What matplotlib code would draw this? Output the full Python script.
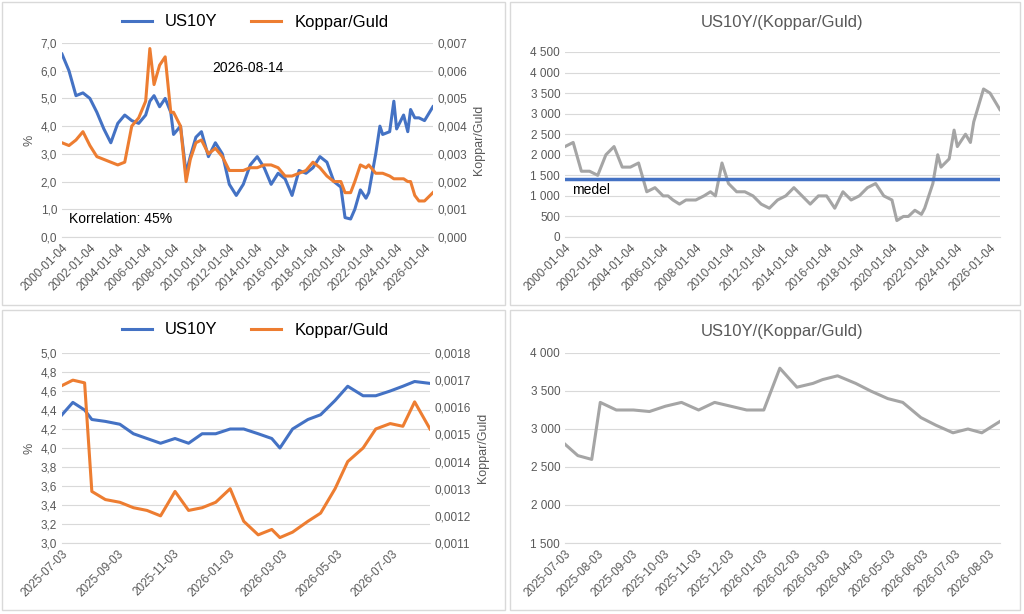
import matplotlib
matplotlib.use("Agg")
import matplotlib.pyplot as plt
import matplotlib.dates as mdates
from matplotlib.ticker import FuncFormatter
import numpy as np
import pandas as pd

plt.rcParams['font.family'] = ['Calibri', 'Liberation Sans', 'DejaVu Sans']
BLUE, ORANGE, GRAY = '#4472C4', '#ED7D31', '#A5A5A5'

# long history, half-yearly readings (year fraction)
long_t = [2000.0, 2000.5, 2001.0, 2001.5, 2002.0, 2002.5, 2003.0, 2003.5, 2004.0, 2004.5,
          2005.0, 2005.5, 2006.0, 2006.3, 2006.6, 2007.0, 2007.4, 2007.8, 2008.0, 2008.5,
          2008.9, 2009.2, 2009.6, 2010.0, 2010.5, 2011.0, 2011.5, 2012.0, 2012.5, 2013.0,
          2013.5, 2014.0, 2014.5, 2015.0, 2015.5, 2016.0, 2016.5, 2017.0, 2017.5, 2018.0,
          2018.5, 2019.0, 2019.5, 2020.0, 2020.3, 2020.7, 2021.0, 2021.4, 2021.8, 2022.0,
          2022.5, 2022.8, 2023.0, 2023.5, 2023.8, 2024.0, 2024.5, 2024.8, 2025.0, 2025.3,
          2025.6, 2026.0, 2026.6]
us10y_long = [6.6, 6.0, 5.1, 5.2, 5.0, 4.5, 3.9, 3.4, 4.1, 4.4,
              4.2, 4.1, 4.4, 4.9, 5.1, 4.7, 5.0, 4.5, 3.7, 4.0,
              2.3, 2.9, 3.6, 3.8, 2.9, 3.4, 3.0, 1.9, 1.5, 1.9,
              2.6, 2.9, 2.5, 1.9, 2.3, 2.1, 1.5, 2.4, 2.3, 2.5,
              2.9, 2.7, 2.0, 1.8, 0.7, 0.65, 1.0, 1.7, 1.4, 1.6,
              3.0, 4.0, 3.7, 3.8, 4.9, 3.9, 4.4, 3.8, 4.6, 4.3,
              4.3, 4.2, 4.7]
kg_long = [0.0034, 0.0033, 0.0035, 0.0038, 0.0033, 0.0029, 0.0028, 0.0027, 0.0026, 0.0027,
           0.0040, 0.0043, 0.0049, 0.0068, 0.0055, 0.0062, 0.0065, 0.0045, 0.0045, 0.0040,
           0.0020, 0.0028, 0.0034, 0.0035, 0.0030, 0.0032, 0.0029, 0.0024, 0.0024, 0.0024,
           0.0025, 0.0025, 0.0026, 0.0026, 0.0025, 0.0022, 0.0022, 0.0023, 0.0024, 0.0027,
           0.0025, 0.0022, 0.0020, 0.0020, 0.0016, 0.0016, 0.0020, 0.0026, 0.0025, 0.0026,
           0.0023, 0.0023, 0.0023, 0.0022, 0.0021, 0.0021, 0.0021, 0.0020, 0.0020, 0.0015,
           0.0013, 0.0013, 0.0016]
ratio_long = [2200, 2300, 1600, 1600, 1500, 2000, 2200, 1700, 1700, 1800,
              1100, 1200, 1000, 1000, 900, 800, 900, 900, 900, 1000,
              1100, 1000, 1800, 1300, 1100, 1100, 1000, 800, 700, 900,
              1000, 1200, 1000, 800, 1000, 1000, 700, 1100, 900, 1000,
              1200, 1300, 1000, 900, 400, 500, 500, 650, 550, 700,
              1300, 2000, 1700, 1900, 2600, 2200, 2500, 2300, 2800, 3200,
              3600, 3500, 3100]
medel = 1400

# last year, readings
short_d = ['2025-07-03', '2025-07-15', '2025-07-28', '2025-08-05', '2025-08-20', '2025-09-05',
           '2025-09-20', '2025-10-05', '2025-10-20', '2025-11-05', '2025-11-20', '2025-12-05',
           '2025-12-20', '2026-01-05', '2026-01-20', '2026-02-05', '2026-02-20', '2026-03-01',
           '2026-03-15', '2026-04-01', '2026-04-15', '2026-05-01', '2026-05-15', '2026-06-01',
           '2026-06-15', '2026-07-01', '2026-07-15', '2026-07-28', '2026-08-14']
us10y_short = [4.35, 4.48, 4.40, 4.30, 4.28, 4.25, 4.15, 4.10, 4.05, 4.10, 4.05, 4.15,
               4.15, 4.20, 4.20, 4.15, 4.10, 4.00, 4.20, 4.30, 4.35, 4.50, 4.65, 4.55,
               4.55, 4.60, 4.65, 4.70, 4.68]
kg_short = [0.00168, 0.00170, 0.00169, 0.00129, 0.00126, 0.00125, 0.00123, 0.00122, 0.00120,
            0.00129, 0.00122, 0.00123, 0.00125, 0.00130, 0.00118, 0.00113, 0.00115, 0.00112,
            0.00114, 0.00118, 0.00121, 0.00130, 0.00140, 0.00145, 0.00152, 0.00154, 0.00153,
            0.00162, 0.00152]
ratio_short = [2800, 2650, 2600, 3350, 3250, 3250, 3230, 3300, 3350, 3250, 3350, 3300,
               3250, 3250, 3800, 3550, 3600, 3650, 3700, 3600, 3500, 3400, 3350, 3150,
               3050, 2950, 3000, 2950, 3100]
monthly_ticks = ['2025-07-03', '2025-08-03', '2025-09-03', '2025-10-03', '2025-11-03',
                 '2025-12-03', '2026-01-03', '2026-02-03', '2026-03-03', '2026-04-03',
                 '2026-05-03', '2026-06-03', '2026-07-03', '2026-08-03']


def yfrac_to_date(t):
    y = int(t)
    return pd.Timestamp(year=y, month=1, day=4) + pd.Timedelta(days=(t - y) * 365.25)


long_dates = [yfrac_to_date(t) for t in long_t]
short_dates = pd.to_datetime(short_d)
long_ticks = pd.to_datetime([f'{y}-01-04' for y in range(2000, 2027, 2)])

comma = lambda d: FuncFormatter(lambda v, p: f'{v:.{d}f}'.replace('.', ','))
space = FuncFormatter(lambda v, p: f'{v:,.0f}'.replace(',', ' '))

fig = plt.figure(figsize=(10.24, 6.14), dpi=100)
W, H = 1024, 614
for (x0, y0, x1, y1) in [(2, 2, 505, 305), (510, 2, 1020, 305), (2, 310, 505, 610), (510, 310, 1020, 610)]:
    fig.patches.append(plt.Rectangle((x0 / W, 1 - y1 / H), (x1 - x0) / W, (y1 - y0) / H,
                                     transform=fig.transFigure, fill=False, ec='#D9D9D9', lw=1))


def ax_at(l, t, r, b):
    return fig.add_axes([l / W, 1 - b / H, (r - l) / W, (b - t) / H])


def style(ax):
    for s in ax.spines.values():
        s.set_visible(False)
    ax.spines['bottom'].set_visible(True)
    ax.spines['bottom'].set_color('#D9D9D9')
    ax.grid(axis='y', color='#D9D9D9', lw=0.8)
    ax.set_axisbelow(True)
    ax.tick_params(length=0, labelsize=8.5, colors='#595959')
    for lab in ax.get_xticklabels():
        lab.set_rotation(45)
        lab.set_ha('right')
        lab.set_rotation_mode('anchor')


# top left
ax1 = ax_at(62, 43, 433, 237)
ax1.plot(long_dates, us10y_long, color=BLUE, lw=2.2, label='US10Y')
ax1.set_ylim(0, 7)
ax1.set_yticks(np.arange(0, 7.01, 1))
ax1.yaxis.set_major_formatter(comma(1))
ax1.set_ylabel('%', color='#595959', fontsize=9)
ax1b = ax1.twinx()
ax1b.plot(long_dates, kg_long, color=ORANGE, lw=2.2, label='Koppar/Guld')
ax1b.set_ylim(0, 0.007)
ax1b.set_yticks(np.arange(0, 0.00701, 0.001))
ax1b.yaxis.set_major_formatter(comma(3))
ax1b.set_ylabel('Koppar/Guld', color='#595959', fontsize=9)
ax1b.tick_params(length=0, labelsize=8.5, colors='#595959')
for s in ax1b.spines.values():
    s.set_visible(False)
ax1.set_xticks(long_ticks)
ax1.xaxis.set_major_formatter(mdates.DateFormatter('%Y-%m-%d'))
ax1.set_xlim(pd.Timestamp('2000-01-04'), pd.Timestamp('2026-08-14'))
style(ax1)
ax1.text(0.5, 0.85, '2026-08-14', transform=ax1.transAxes, ha='center', fontsize=10)
ax1.text(0.02, 0.07, 'Korrelation: 45%', transform=ax1.transAxes, fontsize=10)
h = ax1.get_lines() + ax1b.get_lines()
fig.legend(h, [l.get_label() for l in h], loc='center', bbox_to_anchor=(255 / W, 1 - 22 / H),
           ncol=2, frameon=False, fontsize=12, handlelength=1.8)

# top right
ax2 = ax_at(565, 52, 1000, 237)
ax2.plot(long_dates, ratio_long, color=GRAY, lw=2.2)
ax2.axhline(medel, color=BLUE, lw=2.5)
ax2.text(pd.Timestamp('2000-06-01'), medel - 80, 'medel', va='top', fontsize=10)
ax2.set_ylim(0, 4500)
ax2.set_yticks(np.arange(0, 4501, 500))
ax2.yaxis.set_major_formatter(space)
ax2.set_xticks(long_ticks)
ax2.xaxis.set_major_formatter(mdates.DateFormatter('%Y-%m-%d'))
ax2.set_xlim(pd.Timestamp('2000-01-04'), pd.Timestamp('2026-08-14'))
style(ax2)
ax2.set_title('US10Y/(Koppar/Guld)', fontsize=12, color='#595959', pad=18)

# bottom left
ax3 = ax_at(62, 353, 430, 543)
ax3.plot(short_dates, us10y_short, color=BLUE, lw=2.2, label='US10Y')
ax3.set_ylim(3.0, 5.0)
ax3.set_yticks(np.arange(3.0, 5.01, 0.2))
ax3.yaxis.set_major_formatter(comma(1))
ax3.set_ylabel('%', color='#595959', fontsize=9)
ax3b = ax3.twinx()
ax3b.plot(short_dates, kg_short, color=ORANGE, lw=2.2, label='Koppar/Guld')
ax3b.set_ylim(0.0011, 0.0018)
ax3b.set_yticks(np.arange(0.0011, 0.00181, 0.0001))
ax3b.yaxis.set_major_formatter(comma(4))
ax3b.set_ylabel('Koppar/Guld', color='#595959', fontsize=9)
ax3b.tick_params(length=0, labelsize=8.5, colors='#595959')
for s in ax3b.spines.values():
    s.set_visible(False)
ax3.set_xticks(pd.to_datetime(monthly_ticks[::2]))
ax3.xaxis.set_major_formatter(mdates.DateFormatter('%Y-%m-%d'))
ax3.set_xlim(pd.Timestamp('2025-07-03'), pd.Timestamp('2026-08-14'))
style(ax3)
h = ax3.get_lines() + ax3b.get_lines()
fig.legend(h, [l.get_label() for l in h], loc='center', bbox_to_anchor=(255 / W, 1 - 330 / H),
           ncol=2, frameon=False, fontsize=12, handlelength=1.8)

# bottom right
ax4 = ax_at(565, 353, 1000, 543)
ax4.plot(short_dates, ratio_short, color=GRAY, lw=2.2)
ax4.set_ylim(1500, 4000)
ax4.set_yticks(np.arange(1500, 4001, 500))
ax4.yaxis.set_major_formatter(space)
ax4.set_xticks(pd.to_datetime(monthly_ticks))
ax4.xaxis.set_major_formatter(mdates.DateFormatter('%Y-%m-%d'))
ax4.set_xlim(pd.Timestamp('2025-07-03'), pd.Timestamp('2026-08-14'))
style(ax4)
ax4.set_title('US10Y/(Koppar/Guld)', fontsize=12, color='#595959', pad=12)

fig.savefig('out.png', dpi=100)
